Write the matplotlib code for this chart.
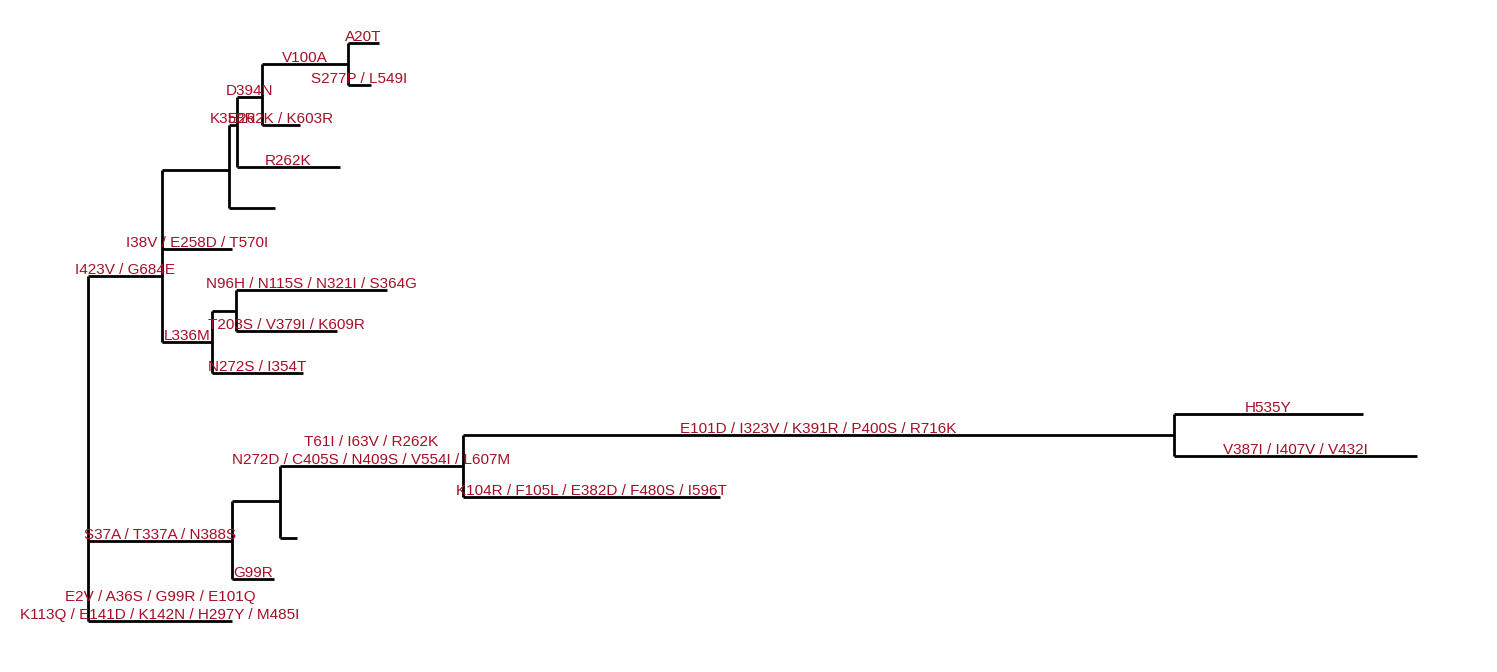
import matplotlib
matplotlib.use("Agg")
import matplotlib.pyplot as plt

# tree nodes: name, parent, x (distance), y (row), branch label
names = ["root", "A", "B", "D", "E", "F", "a20t", "s277p", "e262k", "r262k", "b_leaf",
         "i38v", "C", "C2", "n96h", "t203s", "n272s",
         "G", "H", "I", "J", "h535y", "v387i", "k104r", "h_leaf", "g99r", "k113q"]
parents = [None, "root", "A", "B", "D", "E", "F", "F", "E", "D", "B",
           "A", "A", "C", "C2", "C2", "C",
           "root", "G", "H", "I", "J", "J", "I", "H", "G", "root"]
xs = [88, 162, 229, 237, 262, 348, 379, 371, 300, 340, 275,
      232, 212, 236, 387, 337, 303,
      232, 280, 463, 1174, 1363, 1417, 720, 297, 274, 232]
ys = [448, 276, 170, 125, 97, 64, 43, 85, 125, 167, 208,
      249, 342, 311, 290, 331, 373,
      541, 501, 466, 435, 414, 456, 497, 538, 579, 621]
labels = ["", "I423V / G684E", "", "K358R", "D394N", "V100A", "A20T", "S277P / L549I",
          "E262K / K603R", "R262K", "", "I38V / E258D / T570I", "L336M", "",
          "N96H / N115S / N321I / S364G", "T203S / V379I / K609R", "N272S / I354T",
          "S37A / T337A / N388S", "",
          "T61I / I63V / R262K\nN272D / C405S / N409S / V554I / L607M",
          "E101D / I323V / K391R / P400S / R716K", "H535Y", "V387I / I407V / V432I",
          "K104R / F105L / E382D / F480S / I596T", "", "G99R",
          "E2V / A36S / G99R / E101Q\nK113Q / E141D / K142N / H297Y / M485I"]

pos = {n: (x, y) for n, x, y in zip(names, xs, ys)}

fig = plt.figure(figsize=(14.97, 6.72), dpi=100)
ax = fig.add_axes([0, 0, 1, 1])
ax.set_xlim(0, 1497)
ax.set_ylim(672, 0)
ax.axis("off")

red = "#a50f26"
for n, p, lab in zip(names, parents, labels):
    if p is None:
        continue
    px, _ = pos[p]
    x, y = pos[n]
    ax.plot([px, x], [y, y], color="black", lw=2, solid_capstyle="butt")
    if lab:
        ax.text((px + x) / 2, y + 1, lab, ha="center", va="bottom", color=red,
                fontsize=11, family="Liberation Sans", linespacing=1.35)

for n in names:
    kids = [pos[c][1] for c, p in zip(names, parents) if p == n]
    if kids:
        x = pos[n][0]
        ax.plot([x, x], [min(kids), max(kids)], color="black", lw=2, solid_capstyle="butt")

fig.savefig("out.png", dpi=100)
